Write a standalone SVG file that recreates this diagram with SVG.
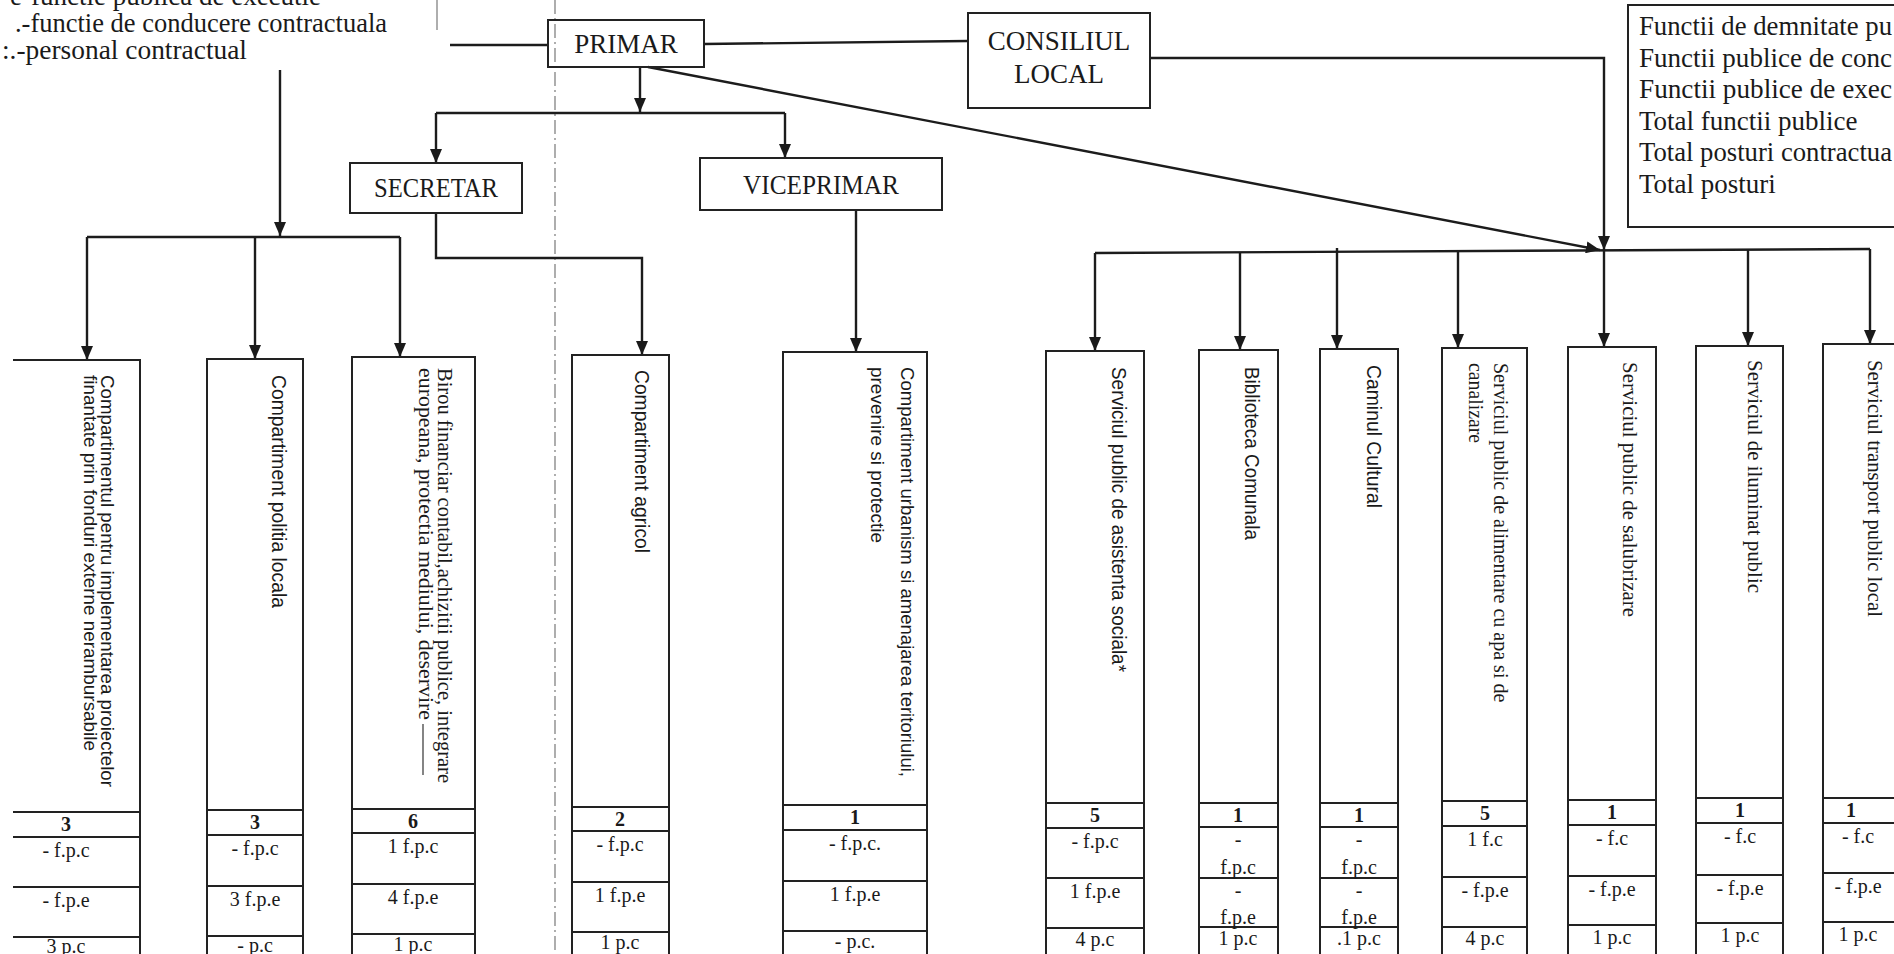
<svg xmlns="http://www.w3.org/2000/svg" width="1894" height="954" viewBox="0 0 1894 954">
<defs>
<marker id="ah" viewBox="0 0 14 12" refX="14" refY="6" markerWidth="14" markerHeight="12" markerUnits="userSpaceOnUse" orient="auto"><path d="M0,0 L14,6 L0,12 z" fill="#1a1a1a"/></marker>
<style>
.ln{fill:none;stroke:#1c1c1c;stroke-width:2.4}
.ar{marker-end:url(#ah)}
.bx{fill:none;stroke:#222;stroke-width:2}
.sep{fill:none;stroke:#9a9a9a;stroke-width:1.6;stroke-dasharray:14 4 2 4}
.t{font-family:"Liberation Serif","Times New Roman",serif;fill:#1a1a1a}
.hd{font-size:27px;text-anchor:middle}
.lg{font-size:27px}
.lr{font-size:27px}
.cell{font-size:20px;text-anchor:middle}
.num{font-weight:bold}
.vs{font-family:"Liberation Sans",Arial,sans-serif;fill:#1a1a1a;font-size:21px}
.vs2{font-family:"Liberation Sans",Arial,sans-serif;fill:#1a1a1a;font-size:19px}
.vr{font-family:"Liberation Serif","Times New Roman",serif;fill:#1a1a1a;font-size:21px}
.vr2{font-family:"Liberation Serif","Times New Roman",serif;fill:#1a1a1a;font-size:20px}
</style>
</defs>
<rect width="1894" height="954" fill="#ffffff"/>

<g id="separators">
<line class="sep" x1="555" y1="0" x2="555" y2="954"/>
<line x1="437" y1="0" x2="437" y2="30" stroke="#9a9a9a" stroke-width="1.6"/>
</g>

<g id="legend-left">
<text class="t lg" x="10" y="5">e-functie publica de executie</text>
<text class="t lg" x="15" y="32" textLength="372" lengthAdjust="spacingAndGlyphs">.-functie de conducere contractuala</text>
<text class="t lg" x="2" y="59" textLength="245" lengthAdjust="spacingAndGlyphs">:.-personal contractual</text>
</g>

<g id="legend-right">
<path class="bx" d="M1894,5 H1628 V227 H1894"/>
<text class="t lr" x="1639" y="35" textLength="253" lengthAdjust="spacingAndGlyphs">Functii de demnitate pu</text>
<text class="t lr" x="1639" y="67" textLength="253" lengthAdjust="spacingAndGlyphs">Functii publice de conc</text>
<text class="t lr" x="1639" y="98" textLength="253" lengthAdjust="spacingAndGlyphs">Functii publice de exec</text>
<text class="t lr" x="1639" y="130">Total functii publice</text>
<text class="t lr" x="1639" y="161" textLength="253" lengthAdjust="spacingAndGlyphs">Total posturi contractua</text>
<text class="t lr" x="1639" y="193">Total posturi</text>
</g>

<g id="connectors">
<path class="ln ar" d="M280,70 V236"/>
<path class="ln" d="M87,237 H400"/>
<path class="ln ar" d="M87,237 V360"/>
<path class="ln ar" d="M255,237 V359"/>
<path class="ln ar" d="M400,237 V357"/>
<path class="ln" d="M450,45 H548"/>
<path class="ln" d="M704,44 L968,41"/>
<path class="ln ar" d="M640,67 V112"/>
<path class="ln" d="M436,113 H785"/>
<path class="ln ar" d="M436,113 V163"/>
<path class="ln ar" d="M785,113 V158"/>
<path class="ln ar" d="M436,213 V258 H642 V355"/>
<path class="ln ar" d="M856,210 V352"/>
<path class="ln ar" d="M648,67 L1600,250"/>
<path class="ln ar" d="M1150,58 H1604 V250"/>
<path class="ln" d="M1095,253 L1870,249"/>
<path class="ln ar" d="M1095,253 V351"/>
<path class="ln ar" d="M1240,252 V350"/>
<path class="ln ar" d="M1337,248 V349"/>
<path class="ln ar" d="M1458,251 V348"/>
<path class="ln ar" d="M1604,250 V347"/>
<path class="ln ar" d="M1748,250 V346"/>
<path class="ln ar" d="M1870,249 V344"/>
</g>

<g id="primar">
<rect class="bx" x="548" y="20" width="156" height="47"/>
<text class="t hd" x="626" y="53">PRIMAR</text>
</g>
<g id="consiliul-local">
<rect class="bx" x="968" y="13" width="182" height="95"/>
<text class="t hd" x="1059" y="50">CONSILIUL</text>
<text class="t hd" x="1059" y="83">LOCAL</text>
</g>
<g id="secretar">
<rect class="bx" x="350" y="163" width="172" height="50"/>
<text class="t hd" x="436" y="197" textLength="124" lengthAdjust="spacingAndGlyphs">SECRETAR</text>
</g>
<g id="viceprimar">
<rect class="bx" x="700" y="158" width="242" height="52"/>
<text class="t hd" x="821" y="194" textLength="156" lengthAdjust="spacingAndGlyphs">VICEPRIMAR</text>
</g>

<g id="comp-fonduri-externe">
<path class="bx" d="M13,360 H140 V954 M13,812 H140 M13,837 H140 M13,887 H140 M13,937 H140"/>
<g transform="translate(106,375) rotate(90)">
<text class="vs2" x="0" y="5" textLength="412" lengthAdjust="spacingAndGlyphs">Compartimentul pentru implementarea proiectelor</text>
<text class="vs2" x="0" y="22" textLength="376" lengthAdjust="spacingAndGlyphs">finantate prin fonduri externe nerambursabile</text>
</g>
<text class="t cell num" x="66" y="831">3</text>
<text class="t cell" x="66" y="857">- f.p.c</text>
<text class="t cell" x="66" y="907">- f.p.e</text>
<text class="t cell" x="66" y="953">3 p.c</text>
</g>

<g id="comp-politia-locala">
<path class="bx" d="M207,954 V359 H303 V954 M207,810 H303 M207,835 H303 M207,886 H303 M207,936 H303"/>
<g transform="translate(277,375) rotate(90)">
<text class="vs" x="0" y="5" textLength="233" lengthAdjust="spacingAndGlyphs">Compartiment politia locala</text>
</g>
<text class="t cell num" x="255" y="829">3</text>
<text class="t cell" x="255" y="855">- f.p.c</text>
<text class="t cell" x="255" y="906">3 f.p.e</text>
<text class="t cell" x="255" y="952">- p.c</text>
</g>

<g id="birou-financiar">
<path class="bx" d="M352,954 V357 H475 V954 M352,809 H475 M352,833 H475 M352,884 H475 M352,934 H475"/>
<g transform="translate(443,368) rotate(90)">
<text class="vr2" x="0" y="5" textLength="415" lengthAdjust="spacingAndGlyphs">Birou financiar contabil,achizitii publice, integrare</text>
<text class="vr2" x="0" y="24" textLength="352" lengthAdjust="spacingAndGlyphs">europeana, protectia mediului, deservire</text>
</g>
<line x1="423" y1="724" x2="423" y2="775" stroke="#333" stroke-width="1.2"/>
<text class="t cell num" x="413" y="828">6</text>
<text class="t cell" x="413" y="853">1 f.p.c</text>
<text class="t cell" x="413" y="904">4 f.p.e</text>
<text class="t cell" x="413" y="951">1 p.c</text>
</g>

<g id="comp-agricol">
<path class="bx" d="M572,954 V355 H669 V954 M572,807 H669 M572,831 H669 M572,882 H669 M572,932 H669"/>
<g transform="translate(640,370) rotate(90)">
<text class="vs" x="0" y="5" textLength="183" lengthAdjust="spacingAndGlyphs">Compartiment agricol</text>
</g>
<text class="t cell num" x="620" y="826">2</text>
<text class="t cell" x="620" y="851">- f.p.c</text>
<text class="t cell" x="620" y="902">1 f.p.e</text>
<text class="t cell" x="620" y="949">1 p.c</text>
</g>

<g id="comp-urbanism">
<path class="bx" d="M783,954 V352 H927 V954 M783,805 H927 M783,830 H927 M783,881 H927 M783,931 H927"/>
<g transform="translate(906,367) rotate(90)">
<text class="vs2" x="0" y="5" textLength="410" lengthAdjust="spacingAndGlyphs">Compartiment urbanism si amenajarea teritoriului,</text>
<text class="vs2" x="0" y="35" textLength="176" lengthAdjust="spacingAndGlyphs">prevenire si protectie</text>
</g>
<text class="t cell num" x="855" y="824">1</text>
<text class="t cell" x="855" y="850">- f.p.c.</text>
<text class="t cell" x="855" y="901">1 f.p.e</text>
<text class="t cell" x="855" y="948">- p.c.</text>
</g>

<g id="serv-asistenta-sociala">
<path class="bx" d="M1046,954 V351 H1144 V954 M1046,803 H1144 M1046,828 H1144 M1046,878 H1144 M1046,928 H1144"/>
<g transform="translate(1117,367) rotate(90)">
<text class="vs" x="0" y="5" textLength="305" lengthAdjust="spacingAndGlyphs">Serviciul public de asistenta sociala*</text>
</g>
<text class="t cell num" x="1095" y="822">5</text>
<text class="t cell" x="1095" y="848">- f.p.c</text>
<text class="t cell" x="1095" y="898">1 f.p.e</text>
<text class="t cell" x="1095" y="946">4 p.c</text>
</g>

<g id="biblioteca-comunala">
<path class="bx" d="M1199,954 V350 H1278 V954 M1199,803 H1278 M1199,827 H1278 M1199,878 H1278 M1199,927 H1278"/>
<g transform="translate(1250,367) rotate(90)">
<text class="vs" x="0" y="5" textLength="173" lengthAdjust="spacingAndGlyphs">Biblioteca Comunala</text>
</g>
<text class="t cell num" x="1238" y="822">1</text>
<text class="t cell" x="1238" y="846">-</text>
<text class="t cell" x="1238" y="874">f.p.c</text>
<text class="t cell" x="1238" y="897">-</text>
<text class="t cell" x="1238" y="924">f.p.e</text>
<text class="t cell" x="1238" y="945">1 p.c</text>
</g>

<g id="caminul-cultural">
<path class="bx" d="M1320,954 V349 H1398 V954 M1320,803 H1398 M1320,827 H1398 M1320,878 H1398 M1320,927 H1398"/>
<g transform="translate(1372,365) rotate(90)">
<text class="vs" x="0" y="5" textLength="143" lengthAdjust="spacingAndGlyphs">Caminul Cultural</text>
</g>
<text class="t cell num" x="1359" y="822">1</text>
<text class="t cell" x="1359" y="846">-</text>
<text class="t cell" x="1359" y="874">f.p.c</text>
<text class="t cell" x="1359" y="897">-</text>
<text class="t cell" x="1359" y="924">f.p.e</text>
<text class="t cell" x="1359" y="945">.1 p.c</text>
</g>

<g id="serv-alimentare-apa">
<path class="bx" d="M1442,954 V348 H1527 V954 M1442,801 H1527 M1442,826 H1527 M1442,877 H1527 M1442,927 H1527"/>
<g transform="translate(1499,363) rotate(90)">
<text class="vr2" x="0" y="5">Serviciul public de alimentare cu apa si de</text>
<text class="vr2" x="0" y="30" textLength="80" lengthAdjust="spacingAndGlyphs">canalizare</text>
</g>
<text class="t cell num" x="1485" y="820">5</text>
<text class="t cell" x="1485" y="846">1 f.c</text>
<text class="t cell" x="1485" y="897">- f.p.e</text>
<text class="t cell" x="1485" y="945">4 p.c</text>
</g>

<g id="serv-salubrizare">
<path class="bx" d="M1568,954 V347 H1656 V954 M1568,800 H1656 M1568,825 H1656 M1568,876 H1656 M1568,925 H1656"/>
<g transform="translate(1628,362) rotate(90)">
<text class="vr" x="0" y="5" textLength="255" lengthAdjust="spacingAndGlyphs">Serviciul public de salubrizare</text>
</g>
<text class="t cell num" x="1612" y="819">1</text>
<text class="t cell" x="1612" y="845">- f.c</text>
<text class="t cell" x="1612" y="896">- f.p.e</text>
<text class="t cell" x="1612" y="944">1 p.c</text>
</g>

<g id="serv-iluminat">
<path class="bx" d="M1696,954 V346 H1783 V954 M1696,798 H1783 M1696,823 H1783 M1696,875 H1783 M1696,923 H1783"/>
<g transform="translate(1753,360) rotate(90)">
<text class="vr" x="0" y="5" textLength="233" lengthAdjust="spacingAndGlyphs">Serviciul de iluminat public</text>
</g>
<text class="t cell num" x="1740" y="817">1</text>
<text class="t cell" x="1740" y="843">- f.c</text>
<text class="t cell" x="1740" y="895">- f.p.e</text>
<text class="t cell" x="1740" y="942">1 p.c</text>
</g>

<g id="serv-transport">
<path class="bx" d="M1823,954 V344 H1894 M1823,798 H1894 M1823,823 H1894 M1823,873 H1894 M1823,922 H1894"/>
<g transform="translate(1873,360) rotate(90)">
<text class="vr" x="0" y="5" textLength="257" lengthAdjust="spacingAndGlyphs">Serviciul transport public local</text>
</g>
<text class="t cell num" x="1851" y="817">1</text>
<text class="t cell" x="1858" y="843">- f.c</text>
<text class="t cell" x="1858" y="893">- f.p.e</text>
<text class="t cell" x="1858" y="941">1 p.c</text>
</g>
</svg>
